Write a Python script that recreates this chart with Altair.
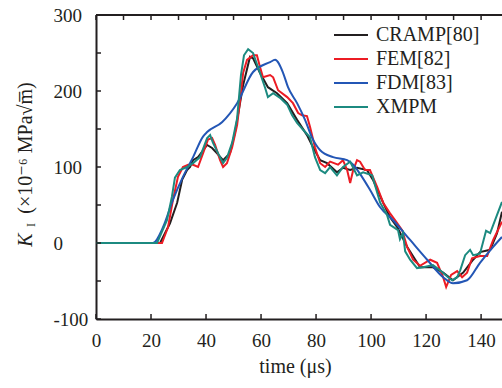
import altair as alt
import pandas as pd

SERIES = ["CRAMP[80]", "FEM[82]", "FDM[83]", "XMPM"]
COLORS = ["#231f20", "#ec1c24", "#2356b5", "#1c8a80"]

cramp_t = [0, 10, 20, 23.3, 26.9, 29.5, 31.3, 33.1, 34.2, 35.3, 37.1, 40.4, 42.2, 44.0, 46.2, 48.7, 50.5, 53.5, 56.0, 57.1, 59.6, 62.5, 65.8, 69.5, 73.1, 76.7, 78.9, 81.5, 84.0, 87.6, 89.8, 92.4, 94.9, 98.5, 100.7, 104.4, 106.9, 109.5, 113.1, 117.8, 122.5, 126.2, 129.8, 133.5, 137.1, 139.6, 143.3, 145.8, 147.6]
cramp_k = [0, 0, 0, 0, 26, 53, 83, 96, 100, 109, 113, 129, 125, 118, 109, 118, 145, 208, 245, 243, 224, 205, 197, 184, 162, 142, 126, 109, 105, 93, 99, 96, 99, 96, 83, 53, 34, 21, -5, -32, -32, -39, -49, -39, -22, -12, -9, 13, 41]

fem_t = [0, 10, 20, 24.0, 26.2, 28.0, 29.8, 31.6, 33.5, 35.3, 37.1, 38.9, 40.7, 42.2, 43.3, 45.1, 46.2, 47.6, 49.5, 51.3, 52.4, 53.5, 54.9, 57.1, 58.5, 59.6, 60.7, 63.3, 64.4, 66.2, 69.5, 71.6, 73.5, 74.9, 76.7, 77.8, 79.6, 81.5, 83.3, 85.1, 88.0, 89.8, 91.3, 92.4, 93.5, 94.9, 96.0, 97.8, 99.6, 102.2, 104.4, 106.9, 108.7, 111.3, 113.1, 115.3, 117.8, 121.5, 124.0, 126.2, 127.3, 129.1, 131.3, 133.1, 134.9, 136.7, 139.6, 142.2, 144.4, 147.6]
fem_k = [0, 0, 0, 0, 21, 57, 87, 100, 103, 103, 100, 118, 136, 138, 129, 109, 100, 105, 126, 155, 188, 224, 241, 247, 247, 232, 218, 221, 218, 201, 192, 184, 171, 168, 167, 153, 126, 105, 100, 107, 103, 109, 96, 79, 96, 109, 107, 96, 96, 74, 53, 39, 30, 17, -5, -22, -30, -22, -26, -45, -58, -42, -37, -45, -39, -20, -17, -17, 4, 28]

fdm_t = [0, 10, 20.7, 24.4, 28.0, 31.6, 35.3, 38.9, 40.4, 45.8, 51.3, 57.1, 63.3, 65.1, 68.0, 69.8, 73.1, 76.0, 78.5, 81.5, 86.2, 91.3, 93.5, 96.7, 99.6, 103.3, 108.0, 114.2, 120.4, 126.2, 129.8, 134.9, 139.6, 144.4, 147.6]
fdm_k = [0, 0, 0, 21, 57, 87, 113, 140, 146, 159, 184, 225, 238, 241, 224, 205, 184, 162, 139, 122, 113, 109, 103, 87, 70, 47, 30, 4, -22, -45, -53, -49, -26, -5, 8]

xmpm_t = [0, 10, 22.2, 25.8, 27.6, 28.7, 30.5, 33.1, 35.3, 37.8, 40.4, 41.5, 42.5, 44.4, 46.2, 47.6, 49.5, 51.3, 52.7, 53.8, 55.3, 57.1, 59.6, 61.5, 62.5, 64.4, 66.9, 69.5, 71.3, 73.1, 75.3, 77.8, 79.6, 81.5, 83.3, 85.1, 87.6, 89.8, 92.4, 94.9, 97.1, 100.4, 103.3, 105.8, 106.9, 109.8, 110.5, 111.6, 112.4, 114.2, 116.7, 118.9, 122.5, 125.1, 128.0, 129.5, 131.3, 132.4, 134.2, 136.0, 137.1, 139.6, 141.8, 143.3, 145.8, 147.6]
xmpm_k = [0, 0, 0, 30, 61, 86, 96, 100, 105, 113, 138, 142, 132, 118, 105, 112, 132, 164, 221, 247, 255, 250, 224, 204, 192, 197, 191, 182, 168, 158, 149, 139, 113, 96, 92, 100, 89, 100, 107, 89, 93, 89, 53, 37, 24, 17, 5, 13, -11, -22, -33, -32, -29, -36, -45, -49, -45, -36, -16, -9, -16, -14, 16, 13, 37, 54]

Y_TICKS = [-100, -50, 0, 50, 100, 150, 200, 250, 300]
Y_LABELS = [-100, 0, 100, 200, 300]
X_LABELS = [0, 20, 40, 60, 80, 100, 120, 140]
X_TOP_TICKS = [0, 10, 20, 30, 40, 50, 60, 70, 80, 90, 100, 110, 120, 130, 140]


def make_df(name, t, k):
    return pd.DataFrame({"t": t, "k": k, "series": name, "order": range(len(t))})


df_jag = pd.concat([make_df(SERIES[0], cramp_t, cramp_k), make_df(SERIES[1], fem_t, fem_k)],
                   ignore_index=True)
df_fdm = make_df(SERIES[2], fdm_t, fdm_k)
df_xmpm = make_df(SERIES[3], xmpm_t, xmpm_k)

W, H = 406, 304
FONT = "'Liberation Serif', 'Times New Roman', 'DejaVu Serif', serif"
INK = "#231f20"

xs = alt.Scale(domain=[0, 147.6], nice=False, zero=False)
ys = alt.Scale(domain=[-100, 300], nice=False, zero=False)

x_enc = alt.X("t:Q", scale=xs, axis=alt.Axis(
    values=X_LABELS, tickSize=0, domainColor=INK, domainWidth=2,
    labelFont=FONT, labelFontSize=19, labelColor=INK, labelPadding=12,
    grid=False, title="time (μs)", titleFont=FONT, titleFontSize=20,
    titleFontWeight="normal", titleColor=INK, titlePadding=6, titleX=199,
    labelFlush=False))
y_enc = alt.Y("k:Q", scale=ys, axis=alt.Axis(
    values=Y_LABELS, tickSize=0, domainColor=INK, domainWidth=2,
    labelFont=FONT, labelFontSize=19, labelColor=INK, labelAlign="left",
    labelExpr="toString(datum.value)",
    labelPadding=43, grid=False, title=None, labelFlush=False))
c_enc = alt.Color("series:N", scale=alt.Scale(domain=SERIES, range=COLORS),
                  legend=alt.Legend(title=None, orient="none", legendX=237, legendY=9,
                                    symbolType="stroke", symbolSize=1156, symbolStrokeWidth=2,
                                    clipHeight=22, rowPadding=2, labelOffset=7, padding=0,
                                    labelFont=FONT, labelFontSize=20, labelColor=INK))

lines_jag = alt.Chart(df_jag).mark_line(strokeWidth=2, clip=True).encode(
    x=x_enc, y=y_enc, color=c_enc, detail="series:N", order="order:Q")
lines_fdm = alt.Chart(df_fdm).mark_line(strokeWidth=2, clip=True, interpolate="monotone").encode(
    x=x_enc, y=y_enc, color=c_enc, order="order:Q")
lines_xmpm = alt.Chart(df_xmpm).mark_line(strokeWidth=2, clip=True).encode(
    x=x_enc, y=y_enc, color=c_enc, order="order:Q")

yticks = alt.Chart(pd.DataFrame({"v": Y_TICKS})).mark_rule(color=INK, strokeWidth=1.5).encode(
    y=alt.Y("v:Q", scale=ys), x=alt.value(0), x2=alt.value(5))
xticks = alt.Chart(pd.DataFrame({"v": X_LABELS})).mark_rule(color=INK, strokeWidth=1.5).encode(
    x=alt.X("v:Q", scale=xs), y=alt.value(H), y2=alt.value(H - 5))
tticks = alt.Chart(pd.DataFrame({"v": X_TOP_TICKS})).mark_rule(color=INK, strokeWidth=1.5).encode(
    x=alt.X("v:Q", scale=xs), y=alt.value(0), y2=alt.value(5))

one = pd.DataFrame({"a": [0]})
top = alt.Chart(one).mark_rule(color=INK, strokeWidth=2).encode(
    y=alt.value(0), x=alt.value(0), x2=alt.value(W))

ytitle_main = alt.Chart(one).mark_text(
    angle=270, font=FONT, fontSize=20, color=INK, align="center", baseline="middle").encode(
    x=alt.value(-70), y=alt.value(133), text=alt.value("(×10⁻⁶ MPa√m̅)"))
ytitle_k = alt.Chart(one).mark_text(
    angle=270, font=FONT, fontSize=20, fontStyle="italic", color=INK, align="center", baseline="middle").encode(
    x=alt.value(-70), y=alt.value(225), text=alt.value("K"))
ytitle_i = alt.Chart(one).mark_text(
    angle=270, font=FONT, fontSize=12, color=INK, align="center", baseline="middle").encode(
    x=alt.value(-65), y=alt.value(210), text=alt.value("I"))

chart = alt.layer(lines_jag, lines_fdm, lines_xmpm, yticks, xticks, tticks, top,
                  ytitle_main, ytitle_k, ytitle_i).properties(
    width=W, height=H,
    autosize=alt.AutoSizeParams(type="none"),
    padding={"left": 96, "top": 15, "right": 0, "bottom": 69},
    background="white",
).configure_view(stroke=None)

chart.save("out.html", embed_options={"renderer": "svg", "actions": False})
